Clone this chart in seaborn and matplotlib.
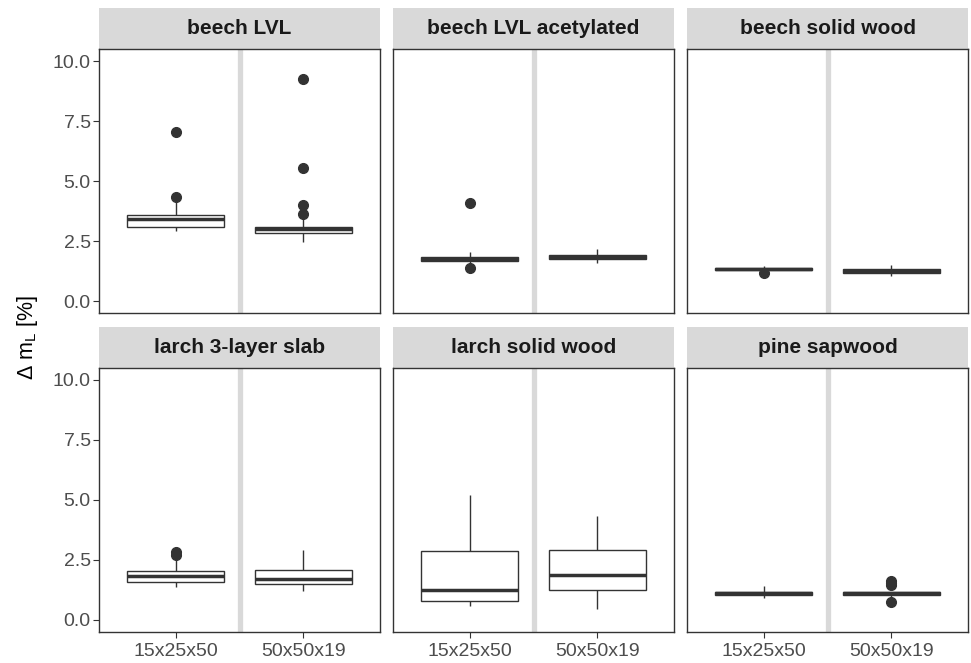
import pandas as pd
import matplotlib.pyplot as plt
import seaborn as sns
from matplotlib.patches import Rectangle

materials = ["beech LVL", "beech LVL acetylated", "beech solid wood",
             "larch 3-layer slab", "larch solid wood", "pine sapwood"]
sizes = ["15x25x50", "50x50x19"]

# mass loss values (per material, per specimen size)
beech_lvl_15 = [2.93, 3.02, 3.07, 3.10, 3.22, 3.35, 3.40, 3.47, 3.53, 3.58, 4.13, 4.35, 7.05]
beech_lvl_50 = [2.47, 2.62, 2.70, 2.76, 2.80, 2.82, 2.86, 2.89, 2.92, 2.95, 2.98,
                3.01, 3.03, 3.05, 3.08, 3.10, 3.45, 3.64, 3.98, 5.53, 9.27]
beech_acet_15 = [1.37, 1.60, 1.63, 1.66, 1.69, 1.72, 1.74, 1.76, 1.79, 1.82, 1.90, 2.03, 4.08]
beech_acet_50 = [1.58, 1.68, 1.75, 1.80, 1.84, 1.88, 1.93, 2.05, 2.18]
beech_solid_15 = [1.15, 1.24, 1.30, 1.32, 1.33, 1.35, 1.37, 1.41, 1.46]
beech_solid_50 = [1.04, 1.10, 1.16, 1.20, 1.24, 1.28, 1.32, 1.40, 1.50]
larch_slab_15 = [1.39, 1.45, 1.50, 1.55, 1.58, 1.65, 1.72, 1.78, 1.83, 1.87, 1.91,
                 1.95, 1.98, 2.05, 2.45, 2.62, 2.72, 2.85]
larch_slab_50 = [1.22, 1.35, 1.48, 1.62, 1.72, 1.90, 2.08, 2.30, 2.93]
larch_solid_15 = [0.60, 0.70, 0.79, 1.05, 1.26, 2.10, 2.88, 3.90, 5.20]
larch_solid_50 = [0.47, 0.95, 1.25, 1.60, 1.88, 2.40, 2.93, 3.60, 4.33]
pine_15 = [0.90, 0.98, 1.03, 1.08, 1.11, 1.14, 1.18, 1.28, 1.40]
pine_50 = [0.75, 0.95, 1.00, 1.03, 1.06, 1.09, 1.11, 1.13, 1.16, 1.18, 1.45, 1.53, 1.62]

groups = [
    (materials[0], sizes[0], beech_lvl_15), (materials[0], sizes[1], beech_lvl_50),
    (materials[1], sizes[0], beech_acet_15), (materials[1], sizes[1], beech_acet_50),
    (materials[2], sizes[0], beech_solid_15), (materials[2], sizes[1], beech_solid_50),
    (materials[3], sizes[0], larch_slab_15), (materials[3], sizes[1], larch_slab_50),
    (materials[4], sizes[0], larch_solid_15), (materials[4], sizes[1], larch_solid_50),
    (materials[5], sizes[0], pine_15), (materials[5], sizes[1], pine_50),
]
rows = []
for mat, size, vals in groups:
    for v in vals:
        rows.append({"material": mat, "size": size, "dm": v})
df = pd.DataFrame(rows)

sns.set_theme(style="white")
plt.rcParams["font.family"] = ["Liberation Sans", "DejaVu Sans"]
plt.rcParams["mathtext.fontset"] = "custom"
plt.rcParams["mathtext.rm"] = "Liberation Sans"

dark = "#333333"
g = sns.catplot(data=df, x="size", y="dm", col="material", col_wrap=3, kind="box",
                order=sizes, col_order=materials, color="white", linecolor=dark,
                linewidth=1.0, width=0.76, fliersize=7, showcaps=False,
                medianprops=dict(color=dark, linewidth=2.5),
                flierprops=dict(marker="o", markerfacecolor=dark, markeredgecolor=dark),
                height=3, aspect=1.07)

g.figure.set_size_inches(9.71, 6.63)
W, H = 971, 663
g.figure.subplots_adjust(left=99 / W, right=968 / W, bottom=1 - 632 / H, top=1 - 49 / H,
                         wspace=13 / 281, hspace=55 / 264)
g.set_titles("")
g.set_axis_labels("", "")

strip_h = 41 / 264
for i, (ax, mat) in enumerate(zip(g.axes.flat, materials)):
    ax.set_xlim(-0.6, 1.6)
    ax.set_ylim(-0.5, 10.5)
    ax.set_yticks([0, 2.5, 5, 7.5, 10])
    ax.set_yticklabels(["0.0", "2.5", "5.0", "7.5", "10.0"])
    ax.axvline(0.5, color="#D9D9D9", lw=3.8, zorder=0)
    for s in ax.spines.values():
        s.set_visible(True)
        s.set_color(dark)
        s.set_linewidth(1.0)
    ax.tick_params(axis="both", colors=dark, labelcolor="#4D4D4D", labelsize=14,
                   length=4.5, width=0.8, pad=1.5)
    ax.tick_params(axis="x", pad=3.5)
    ax.tick_params(left=(i % 3 == 0), bottom=(i >= 3))
    ax.add_patch(Rectangle((0, 1), 1, strip_h, transform=ax.transAxes,
                           facecolor="#D9D9D9", edgecolor="none", clip_on=False))
    ax.text(0.5, 1 + strip_h / 2, mat, transform=ax.transAxes, ha="center", va="center",
            fontsize=15, fontweight="bold", color="#1A1A1A")

g.figure.text(28 / W, 1 - 338 / H, r"Δ m$_\mathrm{L}$ [%]", rotation=90,
              ha="center", va="center", fontsize=15.5, color="black")

g.figure.savefig("out.png", dpi=100)
